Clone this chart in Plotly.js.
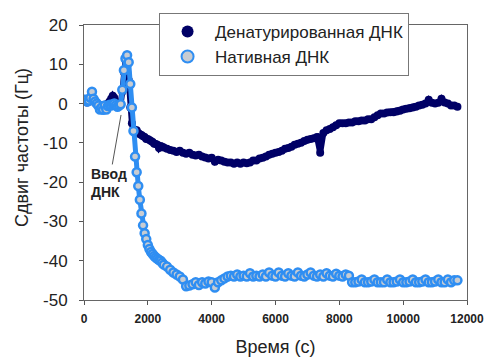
<!DOCTYPE html>
<html>
<head>
<meta charset="utf-8">
<script src="https://cdn.plot.ly/plotly-3.0.1.min.js"></script>
<style>html,body{margin:0;padding:0;background:#fff;}#chart{width:489px;height:361px;}</style>
</head>
<body>
<div id="chart"></div>
<script>
// Time (s)
var timeS = [
  0,50,100,150,200,250,300,350,400,450,
  500,550,600,650,700,750,800,850,900,950,
  1000,1050,1100,1150,1200,1250,1300,1350,1400,1450,
  1500,1550,1600,1650,1700,1750,1800,1850,1900,1950,
  2000,2050,2100,2150,2200,2250,2300,2350,2400,2450,
  2500,
  2600,2700,2800,2900,3000,3100,3200,3300,3400,3500,
  3600,3700,3800,3900,4000,4100,4200,4300,4400,4500,
  4600,4700,4800,4900,5000,5100,5200,5300,5400,5500,
  5600,5700,5800,5900,6000,6100,6200,6300,6400,6500,
  6600,6700,6800,6900,7000,7100,7200,7300,7400,7500,
  7600,7700,7800,7900,8000,8100,8200,8300,8400,8500,
  8600,8700,8800,8900,9000,9100,9200,9300,9400,9500,
  9600,9700,9800,9900,10000,10100,10200,10300,10400,10500,
  10600,10700,10800,10900,11000,11100,11200,11300,11400,11500,
  11600,11700
];

// Денатурированная ДНК (Hz)
var denatured = [
  0.5,0.8,0.3,0.5,0.8,1.0,0.5,0.2,0.0,-0.3,
  -0.8,-0.5,-0.8,-0.3,-0.5,0.0,0.5,1.2,2.0,1.5,
  0.3,0.0,-0.3,0.0,3.0,8.0,11.0,11.8,6.0,-1.0,
  -5.0,-6.5,-7.0,-6.8,-7.5,-7.8,-8.0,-8.3,-8.5,-9.0,
  -9.0,-9.3,-9.5,-9.8,-10.2,-10.3,-10.5,-11.3,-10.8,-11.0,
  -11.2,
  -11.5,-11.8,-12.0,-12.3,-12.0,-12.5,-12.8,-12.5,-13.0,-13.2,
  -13.0,-13.5,-13.7,-14.0,-13.8,-14.8,-14.3,-14.5,-14.8,-15.0,
  -15.0,-15.3,-15.0,-15.3,-15.0,-15.2,-15.0,-14.5,-14.5,-14.0,
  -13.8,-13.5,-13.0,-12.8,-12.5,-12.3,-12.0,-11.5,-11.3,-11.0,
  -10.5,-10.2,-10.0,-9.5,-9.2,-9.0,-8.8,-8.5,-12.5,-7.5,
  -6.8,-6.5,-6.0,-5.5,-5.0,-5.0,-5.0,-4.8,-4.8,-4.5,
  -4.5,-4.3,-4.3,-4.0,-4.0,-3.5,-3.0,-2.5,-2.5,-2.3,
  -2.2,-2.2,-2.0,-1.8,-1.5,-1.3,-1.2,-1.0,-0.8,-0.5,
  -0.3,0.0,1.0,0.2,0.0,0.2,1.2,0.3,0.0,-0.5,
  -0.5,-0.8
];

// Нативная ДНК (Hz)
var native = [
  0.8,1.0,0.5,0.8,1.5,3.0,1.2,0.5,0.0,-0.5,
  -1.5,-1.0,-1.6,-0.5,-1.5,-0.6,-0.3,-0.5,-0.2,0.0,
  -0.4,-0.8,-0.5,-0.2,3.5,8.5,11.5,12.3,10.5,5.0,
  -1.0,-7.0,-13.5,-17.5,-21.0,-24.5,-28.0,-31.0,-33.0,-34.5,
  -36.0,-37.0,-37.8,-38.3,-38.8,-39.2,-39.5,-39.8,-40.0,-40.5,
  -41.0,
  -41.5,-42.3,-43.0,-43.5,-44.0,-44.8,-46.5,-46.3,-46.0,-45.5,
  -46.2,-45.5,-45.8,-45.3,-45.5,-46.8,-45.5,-45.0,-44.5,-44.0,
  -43.8,-44.0,-43.5,-44.0,-43.8,-44.0,-43.2,-44.0,-43.8,-44.0,
  -43.5,-44.0,-43.0,-43.8,-44.0,-43.0,-43.8,-44.0,-43.2,-43.8,
  -44.0,-43.0,-43.8,-44.0,-43.5,-43.0,-43.8,-44.0,-43.5,-44.0,
  -43.2,-43.8,-44.0,-43.3,-43.8,-44.0,-43.5,-43.8,-45.5,-45.5,
  -45.3,-44.8,-45.5,-45.5,-45.3,-44.8,-45.5,-45.5,-45.5,-44.8,
  -45.5,-45.5,-45.3,-44.8,-45.5,-45.5,-45.3,-44.8,-45.5,-45.5,
  -45.3,-44.8,-45.5,-45.5,-45.3,-44.8,-45.5,-45.5,-44.8,-45.5,
  -45.0,-45.0
];

var seriesNames = ["Денатурированная ДНК", "Нативная ДНК"];
var xTickVals = [0,2000,4000,6000,8000,10000,12000];
var xTickText = ["0","2000","4000","6000","8000","10000","12000"];
var yTickVals = [-50,-40,-30,-20,-10,0,10,20];
var yTickText = ["-50","-40","-30","-20","-10","0","10","20"];

var FONT = "Liberation Sans, Arial, sans-serif";
var NAVY = "#000066";
var BLUE = "#2f8ef2";

var traces = [
  {
    x: timeS, y: denatured, type: "scatter", mode: "lines", showlegend: false,
    line: {color: NAVY, width: 6}, hoverinfo: "skip"
  },
  {
    x: timeS, y: denatured, name: seriesNames[0], type: "scatter", mode: "markers",
    marker: {size: 8, color: NAVY, line: {width: 0}}
  },
  {
    x: timeS, y: native, type: "scatter", mode: "lines", showlegend: false,
    line: {color: BLUE, width: 5}, hoverinfo: "skip"
  },
  {
    x: timeS, y: native, name: seriesNames[1], type: "scatter", mode: "markers",
    marker: {size: 8, color: "#c8ccd2", line: {width: 2.5, color: BLUE}}
  }
];

var layout = {
  width: 489, height: 361,
  margin: {l: 84, r: 22, t: 25, b: 61, autoexpand: false},
  paper_bgcolor: "#fff", plot_bgcolor: "#fff",
  font: {family: FONT, color: "#222"},
  showlegend: true,
  legend: {
    x: 0.196, y: 1.044, xanchor: "left", yanchor: "top",
    bgcolor: "#fff", bordercolor: "#777", borderwidth: 1,
    font: {family: FONT, size: 17, color: "#222"},
    itemsizing: "constant", itemwidth: 45, tracegroupgap: 0
  },
  xaxis: {
    range: [0, 12000], tickmode: "array", tickvals: xTickVals, ticktext: xTickText,
    ticks: "outside", ticklen: 4, tickcolor: "#555", showgrid: false, zeroline: false,
    showline: true, linecolor: "#666", linewidth: 1, mirror: true,
    tickfont: {family: FONT, size: 12, color: "#222", weight: "bold"},
    ticklabelstandoff: 4,
    title: {text: "Время (с)", font: {family: FONT, size: 18, color: "#222"}, standoff: 14}
  },
  yaxis: {
    range: [-50, 20], tickmode: "array", tickvals: yTickVals, ticktext: yTickText,
    ticks: "outside", ticklen: 4, tickcolor: "#555", showgrid: false, zeroline: false,
    showline: true, linecolor: "#666", linewidth: 1, mirror: true,
    tickfont: {family: FONT, size: 17, color: "#222"},
    ticklabelstandoff: 8
  },
  annotations: [
    {
      xref: "paper", yref: "paper", x: (22 - 84) / 383, y: (300 - 148) / 275,
      xanchor: "center", yanchor: "middle", textangle: -90, showarrow: false,
      text: "Сдвиг частоты (Гц)",
      font: {family: FONT, size: 18, color: "#222"}
    },
    {
      x: 1160, y: -2.9, xref: "x", yref: "y",
      text: "Ввод<br>ДНК", align: "left",
      showarrow: true, arrowhead: 0, arrowwidth: 1, arrowcolor: "#555",
      ax: -12, ay: 68,
      font: {family: FONT, size: 14, color: "#222", weight: "bold"}
    }
  ]
};

Plotly.newPlot("chart", traces, layout, {displayModeBar: false, staticPlot: true});
</script>
</body>
</html>
